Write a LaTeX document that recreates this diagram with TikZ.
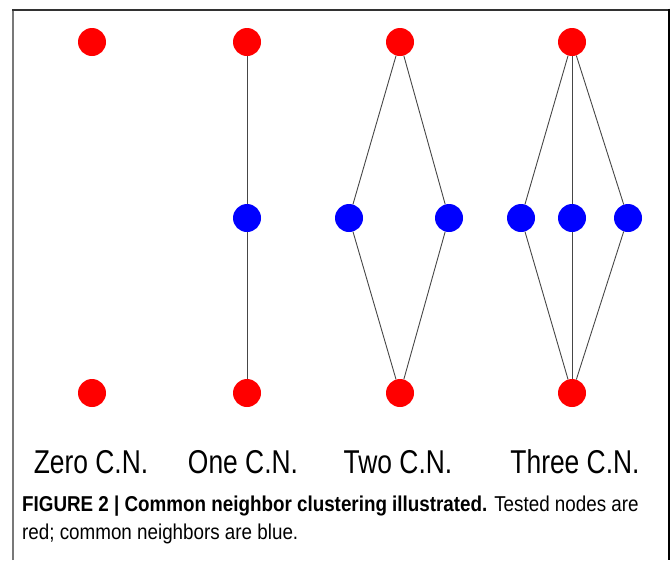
\documentclass[tikz,border=0pt]{standalone}
\usepackage{fontspec}
\setsansfont{Liberation Sans}
\begin{document}
\begin{tikzpicture}[x=1pt,y=1pt,yscale=-1,xscale=1,
    tested/.style={circle,fill={rgb,255:red,255;green,0;blue,0},inner sep=0pt,minimum size=28pt},
    common/.style={circle,fill={rgb,255:red,0;green,0;blue,255},inner sep=0pt,minimum size=28pt},
    link/.style={draw={rgb,255:red,70;green,70;blue,70},line width=0.9pt},
    cnlabel/.style={font=\sffamily\fontsize{33}{38}\selectfont,xscale=0.8,inner sep=0pt,anchor=base},
    capline/.style={font=\sffamily\fontsize{21.5}{26}\selectfont,xscale=0.875,inner sep=0pt,anchor=base west}]
    \useasboundingbox (0,0) rectangle (671,560);

    % Frame
    \draw [line width=2pt,color={rgb,255:red,120;green,120;blue,120}] (13,560) -- (13,9.5);
    \draw [line width=2pt,color={rgb,255:red,50;green,50;blue,50}] (12,9.5) -- (669,9.5);
    \draw [line width=2pt,color=black] (669,8.5) -- (669,560);

    % Zero C.N.
    \node [tested] (za) at (92,42) {};
    \node [tested] (zb) at (92,393) {};

    % One C.N.
    \node [tested] (oa) at (247,42) {};
    \node [common] (om) at (247,218) {};
    \node [tested] (ob) at (247,393) {};
    \draw [link] (oa) -- (om);
    \draw [link] (om) -- (ob);

    % Two C.N.
    \node [tested] (ta) at (400,42) {};
    \node [common] (tm1) at (349,218) {};
    \node [common] (tm2) at (449,218) {};
    \node [tested] (tb) at (400,393) {};
    \foreach \m in {tm1,tm2} {
        \draw [link] (ta) -- (\m);
        \draw [link] (\m) -- (tb);
    }

    % Three C.N.
    \node [tested] (ha) at (572,42) {};
    \node [common] (hm1) at (521,218) {};
    \node [common] (hm2) at (572,218) {};
    \node [common] (hm3) at (628,218) {};
    \node [tested] (hb) at (572,393) {};
    \foreach \m in {hm1,hm2,hm3} {
        \draw [link] (ha) -- (\m);
        \draw [link] (\m) -- (hb);
    }

    % Text Node
    \node [cnlabel] (lz) at (91,473) {Zero C.N.};
    % Text Node
    \node [cnlabel] (lo) at (243,473) {One C.N.};
    % Text Node
    \node [cnlabel] (lt) at (398,473) {Two C.N.};
    % Text Node
    \node [cnlabel] (lh) at (575,473) {Three C.N.};

    % Caption
    \node [capline] (capa) at (22,511) {\textbf{FIGURE 2 | Common neighbor clustering illustrated.} Tested nodes are};
    \node [capline] (capb) at (22,539) {red; common neighbors are blue.};
\end{tikzpicture}
\end{document}
